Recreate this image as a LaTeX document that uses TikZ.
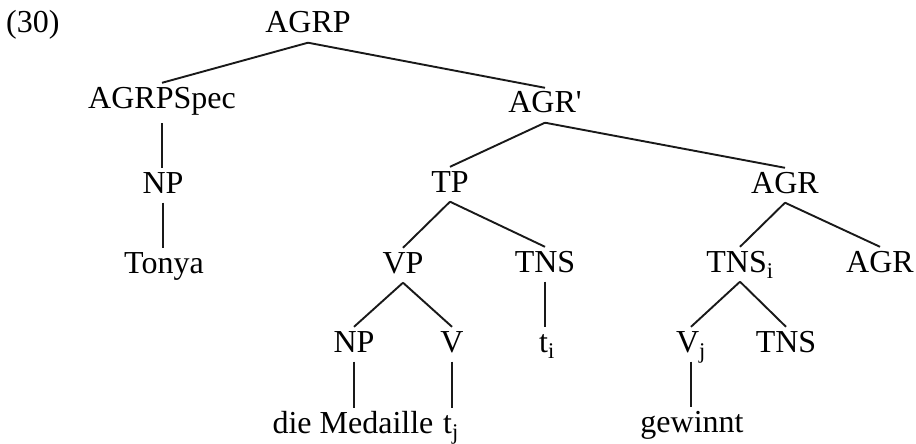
\documentclass[tikz,border=0pt]{standalone}
\usepackage{fontspec}
\setmainfont{Liberation Serif}
\usepackage{tikz}
\usetikzlibrary{positioning}

\tikzset{
  cat/.style={anchor=base,inner sep=0pt,text height=25pt,text depth=9.5pt},
  branch/.style={draw=black!90,line width=1.9pt}
}

\begin{document}
\begin{tikzpicture}[x=1pt,y=-1pt,font=\fontsize{32}{38}\selectfont]
\useasboundingbox (0,0) rectangle (916,444);
\node[anchor=base west,inner sep=0pt] (ex) at (6,33) {(30)};
\begin{scope}[every node/.style={cat}]
    \node (agrp) at (308,33) {AGRP};
    \node[text depth=15pt] (spec) at (162,108) {AGRPSpec};
    \node (agrbar) at (545,113) {AGR\textquotesingle};
    \node (np1) at (163,193) {NP};
    \node (tp) at (450,192) {TP};
    \node (agr1) at (785,193) {AGR};
    \node (tonya) at (164,273) {Tonya};
    \node (vp) at (403,273) {VP};
    \node (tns1) at (545,272) {TNS};
    \node (tnsi) at (740,272) {TNS\textsubscript{i}};
    \node (agr2) at (880,272) {AGR};
    \node (np2) at (354,352) {NP};
    \node (v) at (452,352) {V};
    \node (ti) at (547,352) {t\textsubscript{i}};
    \node (vj) at (691,352) {V\textsubscript{j}};
    \node (tns2) at (786,352) {TNS};
    \node (med) at (353,433) {die Medaille};
    \node (tj) at (451,433) {t\textsubscript{j}};
    \node (gew) at (692,432) {gewinnt};
\end{scope}
\draw [branch] (agrp.south)--(spec.north) (agrp.south)--(agrbar.north);
\draw [branch] (agrbar.south)--(tp.north) (agrbar.south)--(agr1.north);
\draw [branch] (tp.south)--(vp.north) (tp.south)--(tns1.north);
\draw [branch] (agr1.south)--(tnsi.north) (agr1.south)--(agr2.north);
\draw [branch] (vp.south)--(np2.north) (vp.south)--(v.north);
\draw [branch] (tnsi.south)--(vj.north) (tnsi.south)--(tns2.north);
% unary branches
\draw [branch] (spec.south)--(spec.south |- np1.north) (np1.south)--(np1.south |- tonya.north);
\draw [branch] (tns1.south)--(tns1.south |- ti.north);
\draw [branch] (np2.south)--(np2.south |- med.north) (v.south)--(v.south |- tj.north);
\draw [branch] (vj.south)--(vj.south |- gew.north);
\end{tikzpicture}
\end{document}
